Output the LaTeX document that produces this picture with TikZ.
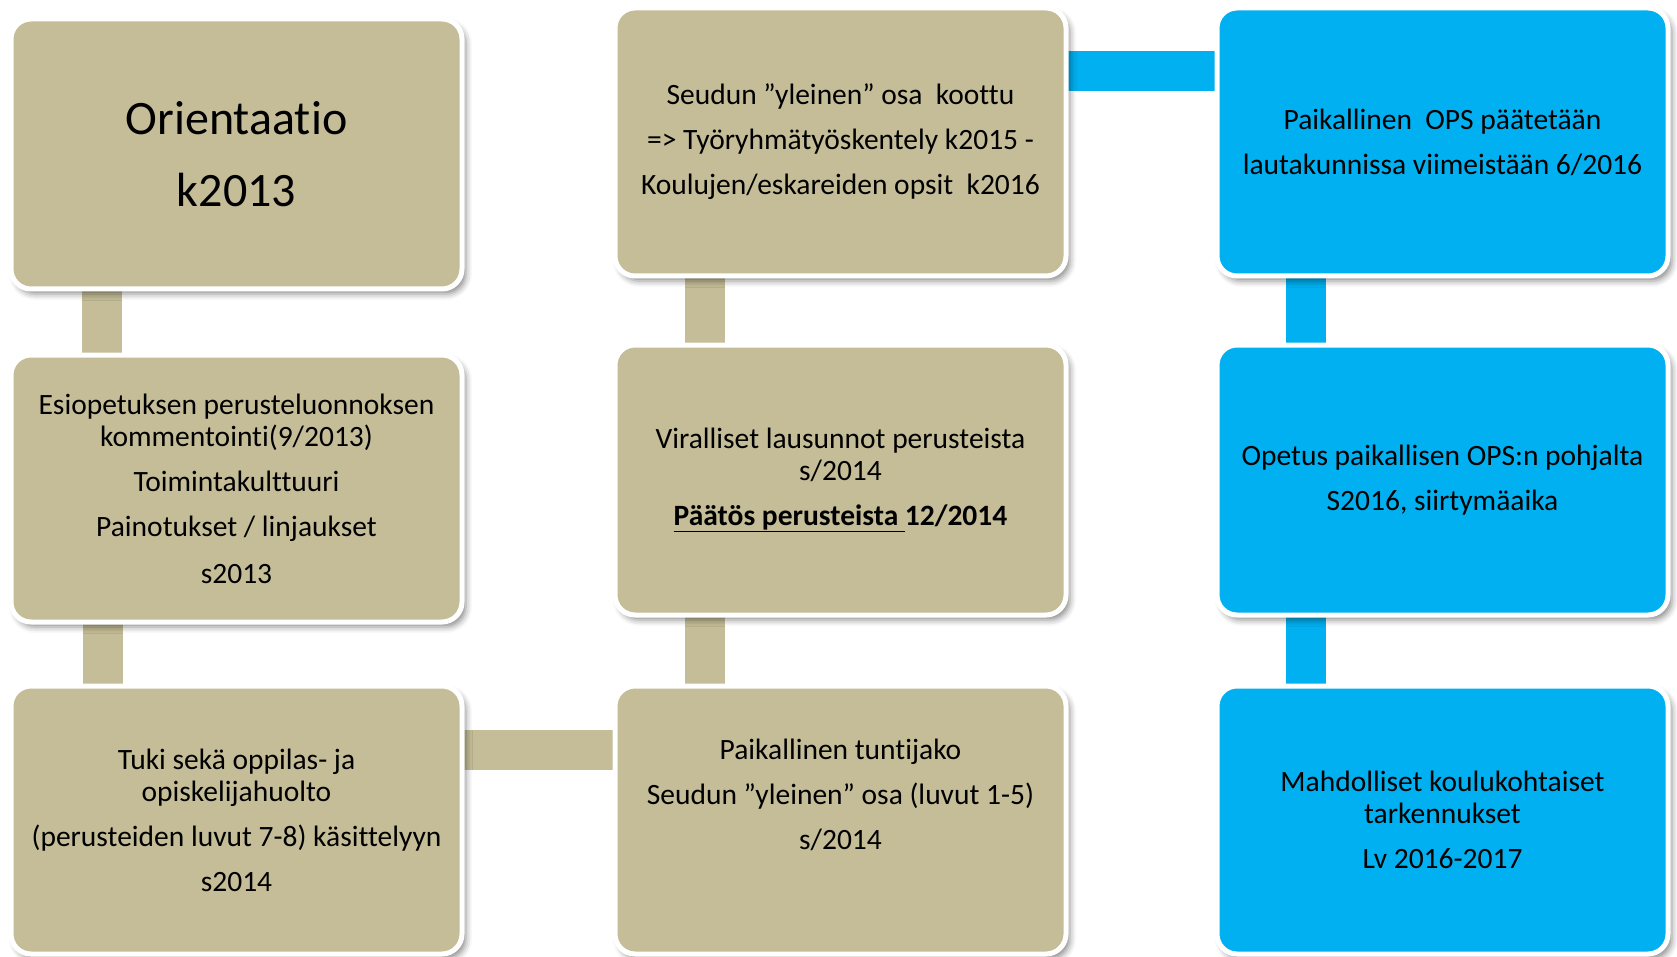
\documentclass[tikz,border=0pt]{standalone}
\usepackage{fontspec}
\setmainfont{Carlito}[Ligatures=NoCommon]
\usetikzlibrary{calc,shadows.blur}
\definecolor{tanbox}{HTML}{C4BD97}
\definecolor{bluebox}{HTML}{00B0F0}
\pgfdeclarelayer{bg}
\pgfsetlayers{bg,main}
\begin{document}
\begin{tikzpicture}[x=1pt,y=-1pt,
  box/.style={rectangle, rounded corners=20pt, draw=white, line width=5pt,
    minimum width=451pt, minimum height=268pt, inner sep=0pt, outer sep=0pt,
    align=center, font=\fontsize{29.5}{32}\selectfont,
    blur shadow={shadow xshift=4pt, shadow yshift=-5pt, shadow blur radius=6pt, shadow opacity=45}},
  tanb/.style={box, fill=tanbox},
  blueb/.style={box, fill=bluebox},
  tanconn/.style={draw=tanbox, line width=40pt},
  blueconn/.style={draw=bluebox, line width=40pt}]
\useasboundingbox (0,0) rectangle (1677,957);

\node[tanb, minimum height=270pt, font=\fontsize{48}{72}\selectfont] (b1) at (236.5,154) {Orientaatio\\k2013};
\node[tanb, minimum height=267pt] (b2) at (236.5,488.5) {Esiopetuksen perusteluonnoksen\\kommentointi(9/2013)\\[13pt]Toimintakulttuuri\\[13pt]Painotukset / linjaukset\\[15pt]s2013};
\node[tanb] (b3) at (236.5,820) {Tuki sekä oppilas- ja\\opiskelijahuolto\\[13pt](perusteiden luvut 7-8) käsittelyyn\\[13pt]s2014};

\node[tanb] (b4) at (840.5,142) {Seudun ”yleinen” osa\ \ koottu\\[13pt]=> Työryhmätyöskentely k2015 -\\[13pt]Koulujen/eskareiden opsit\ \ k2016};
\node[tanb, minimum height=270pt] (b5) at (840.5,480) {Viralliset lausunnot perusteista\\s/2014\\[13pt]\textbf{\underline{Päätös perusteista\ }12/2014}};
\node[tanb] (b6) at (840.5,820) {Paikallinen tuntijako\\[13pt]Seudun ”yleinen” osa (luvut 1-5)\\[13pt]s/2014\\[20pt]\mbox{}};

\node[blueb] (b7) at (1442.5,142) {Paikallinen\ \ OPS päätetään\\[13pt]lautakunnissa viimeistään 6/2016};
\node[blueb, minimum height=270pt] (b8) at (1442.5,480) {Opetus paikallisen OPS:n pohjalta\\[13pt]S2016, siirtymäaika};
\node[blueb] (b9) at (1442.5,820) {Mahdolliset koulukohtaiset\\tarkennukset\\[13pt]Lv 2016-2017};

\begin{pgfonlayer}{bg}
\draw[tanconn] ($(b1.south west)+(91,0)$) -- ($(b2.north west)+(91,0)$);
\draw[tanconn] ($(b2.south west)+(92,0)$) -- ($(b3.north west)+(92,0)$);
\draw[tanconn] ($(b4.south west)+(90,0)$) -- ($(b5.north west)+(90,0)$);
\draw[tanconn] ($(b5.south west)+(90,0)$) -- ($(b6.north west)+(90,0)$);
\draw[blueconn] ($(b7.south west)+(89,0)$) -- ($(b8.north west)+(89,0)$);
\draw[blueconn] ($(b8.south west)+(89,0)$) -- ($(b9.north west)+(89,0)$);
\draw[blueconn] ($(b4.north east)+(0,63)$) -- ($(b7.north west)+(0,63)$);
\draw[tanconn] ($(b3.north east)+(0,64)$) -- ($(b6.north west)+(0,64)$);
\end{pgfonlayer}
\end{tikzpicture}
\end{document}
